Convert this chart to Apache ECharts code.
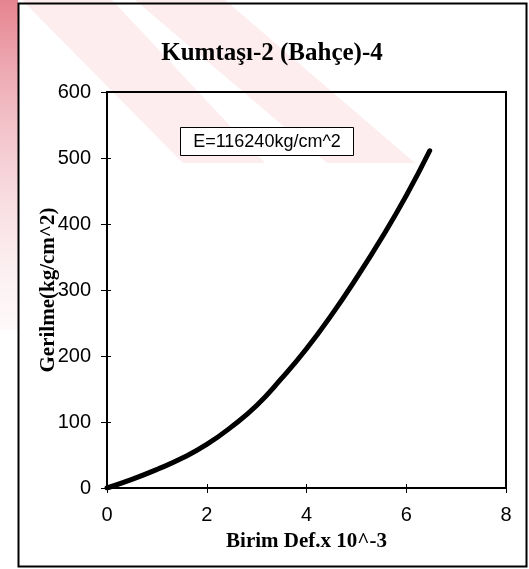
<!DOCTYPE html>
<html>
<head>
<meta charset="utf-8">
<style>html,body{margin:0;padding:0;background:#fff}#c{width:529px;height:569px}</style>
<script src="https://cdn.jsdelivr.net/npm/echarts@6/dist/echarts.min.js"></script>
</head>
<body>
<div id="c"></div>
<script>
const titleText = 'Kumtaşı-2 (Bahçe)-4';
const xName = 'Birim Def.x 10^-3';
const yName = 'Gerilme(kg/cm^2)';
const noteText = 'E=116240kg/cm^2';
const strain = [0, 0.5, 1, 1.5, 2, 2.5, 3, 3.5, 4, 4.5, 5, 5.5, 6, 6.47];
const stress = [0, 13, 28, 45, 66, 93, 125, 166, 211, 262, 318, 378, 443, 511];
const xTicks = [0, 8, 2];   // min, max, interval
const yTicks = [0, 600, 100];

const chart = echarts.init(document.getElementById('c'), null, {renderer: 'canvas'});
const sans = 'Arial, "Liberation Sans", sans-serif';
const serif = '"Times New Roman", "Liberation Serif", serif';
const data = strain.map((x, i) => [x, stress[i]]);

chart.setOption({
  animation: false,
  backgroundColor: '#fff',
  title: {
    text: titleText, left: 267, top: 36, textAlign: 'center',
    textStyle: {fontFamily: serif, fontWeight: 'bold', fontSize: 25, color: '#000'}
  },
  grid: {left: 107, right: 23, top: 92, bottom: 81, show: true, borderColor: '#000', borderWidth: 2, backgroundColor: 'transparent'},
  xAxis: [{
    type: 'value', min: xTicks[0], max: xTicks[1], interval: xTicks[2],
    name: xName, nameLocation: 'middle', nameGap: 43,
    nameTextStyle: {fontFamily: serif, fontWeight: 'bold', fontSize: 21, color: '#000'},
    axisLine: {show: true, lineStyle: {color: '#000', width: 2}},
    axisTick: {show: true, inside: false, length: 5, lineStyle: {color: '#000', width: 1}},
    axisLabel: {fontFamily: sans, fontSize: 20, color: '#000', margin: 17},
    splitLine: {show: false}
  }, {
    type: 'value', min: xTicks[0], max: xTicks[1], interval: xTicks[2], position: 'bottom',
    axisLine: {show: false}, axisTick: {show: true, inside: true, length: 4, lineStyle: {color: '#000', width: 1}},
    axisLabel: {show: false}, splitLine: {show: false}
  }],
  yAxis: [{
    type: 'value', min: yTicks[0], max: yTicks[1], interval: yTicks[2],
    name: yName, nameLocation: 'middle', nameGap: 48, nameRotate: 90, nameMoveOverlap: false,
    nameTextStyle: {fontFamily: serif, fontWeight: 'bold', fontSize: 21, color: '#000'},
    axisLine: {show: true, lineStyle: {color: '#000', width: 2}},
    axisTick: {show: true, inside: false, length: 6, lineStyle: {color: '#000', width: 1}},
    axisLabel: {fontFamily: sans, fontSize: 20, color: '#000', margin: 16},
    splitLine: {show: false}
  }, {
    type: 'value', min: yTicks[0], max: yTicks[1], interval: yTicks[2], position: 'left',
    axisLine: {show: false}, axisTick: {show: true, inside: true, length: 4, lineStyle: {color: '#000', width: 1}},
    axisLabel: {show: false}, splitLine: {show: false}
  }],
  series: [{
    type: 'line', data: data, smooth: true, showSymbol: false,
    lineStyle: {color: '#000', width: 5, cap: 'round'}
  }],
  graphic: [
    {type: 'polygon', silent: true, z: -10, shape: {points: [[0, 0], [18, 0], [18, 330], [0, 330]]},
      style: {fill: new echarts.graphic.LinearGradient(0, 0, 0, 1, [{offset: 0, color: 'rgba(225,110,125,0.85)'}, {offset: 1, color: 'rgba(250,225,230,0.2)'}])}},
    {type: 'polygon', silent: true, z: -10, shape: {points: [[22, 0], [112, 0], [265, 163], [183, 163]]}, style: {fill: '#fdedef'}},
    {type: 'polygon', silent: true, z: -10, shape: {points: [[135, 0], [225, 0], [415, 163], [327, 163]]}, style: {fill: '#fdedef'}},
    {type: 'rect', shape: {x: 18.5, y: 3.5, width: 508, height: 563}, style: {fill: 'none', stroke: '#000', lineWidth: 2}, z: 0},
    {type: 'group', left: 180, top: 127, children: [
      {type: 'rect', shape: {x: 0, y: 0, width: 173, height: 28}, style: {fill: '#fff', stroke: '#000', lineWidth: 1}},
      {type: 'text', x: 86.5, y: 14.5, style: {text: noteText, fontFamily: sans, fontSize: 18, fill: '#000', textAlign: 'center', textVerticalAlign: 'middle'}}
    ]}
  ]
});
</script>
</body>
</html>
